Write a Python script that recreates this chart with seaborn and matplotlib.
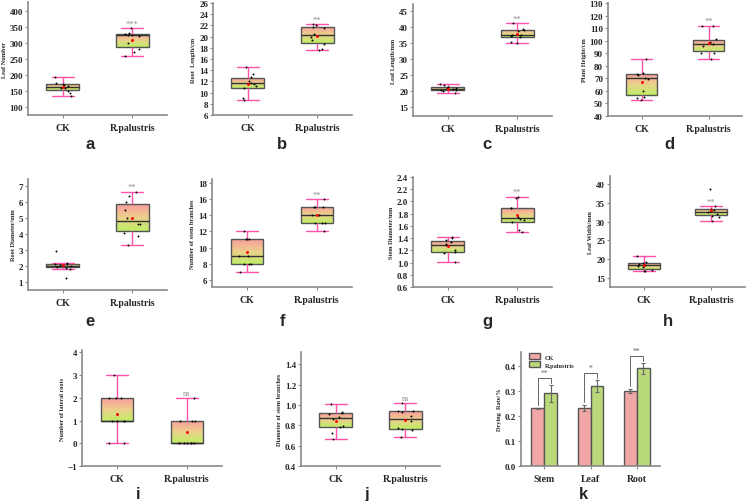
import numpy as np
import pandas as pd
import matplotlib
matplotlib.use("Agg")
import matplotlib.pyplot as plt
import matplotlib.ticker as mticker
from matplotlib import cbook
from matplotlib.colors import LinearSegmentedColormap
import seaborn as sns

# groups shared by all box panels
groups = ["CK", "R.palustris"]

# a - leaf number
leaf_number_ck = [133, 145, 150, 158, 160, 165, 168, 172, 176, 193]
leaf_number_rp = [260, 272, 282, 300, 322, 325, 326, 328, 332, 346]
# b - root length (cm)
root_length_ck = [8.6, 9.0, 10.8, 11.2, 11.6, 11.8, 12.1, 12.8, 13.3, 14.5]
root_length_rp = [17.6, 17.8, 18.6, 19.4, 20.0, 20.4, 21.5, 21.8, 22.0, 22.2]
# c - leaf length (mm)
leaf_length_ck = [19.4, 19.9, 20.2, 20.4, 20.6, 20.8, 21.0, 21.3, 21.8, 22.2]
leaf_length_rp = [35.0, 35.2, 36.8, 37.1, 37.4, 37.6, 38.9, 39.2, 39.4, 41.2]
# d - plant height (cm)
plant_height_ck = [53.0, 54.5, 55.2, 60.0, 69.5, 70.5, 73.0, 73.8, 74.5, 85.5]
plant_height_rp = [85.5, 90.0, 90.5, 96.0, 97.0, 98.0, 99.0, 101.0, 111.5, 112.0]
# e - root diameter (mm)
root_diam_ck = [1.25, 1.82, 1.90, 1.95, 2.00, 2.05, 2.10, 2.15, 2.20, 2.95]
root_diam_rp = [3.30, 3.90, 4.05, 4.62, 4.65, 5.00, 5.50, 6.00, 6.40, 6.65]
# f - number of stem branches
branches_ck = [7, 8, 8, 8, 9, 9, 11, 11, 11, 12]
branches_rp = [12, 13, 13, 13, 14, 14, 15, 15, 15, 16]
# g - stem diameter (mm)
stem_diam_ck = [1.01, 1.15, 1.17, 1.21, 1.28, 1.30, 1.33, 1.37, 1.40, 1.42]
stem_diam_rp = [1.50, 1.53, 1.66, 1.70, 1.72, 1.75, 1.89, 1.90, 2.05, 2.08]
# h - leaf width (mm)
leaf_width_ck = [16.8, 16.9, 17.2, 18.0, 18.3, 18.5, 18.6, 19.0, 19.3, 20.8]
leaf_width_rp = [30.2, 31.3, 31.6, 32.0, 32.5, 32.8, 33.0, 33.4, 34.1, 38.7]
# i - number of lateral roots
lateral_ck = [0, 0, 1, 1, 1, 1, 2, 2, 2, 3]
lateral_rp = [0, 0, 0, 0, 0, 0, 1, 1, 1, 2]
# j - diameter of stem branches
branch_diam_ck = [0.67, 0.72, 0.78, 0.79, 0.86, 0.88, 0.91, 0.92, 0.93, 1.01]
branch_diam_rp = [0.68, 0.75, 0.76, 0.77, 0.84, 0.89, 0.93, 0.94, 0.945, 1.02]

# k - drying rate
drying_parts = ["Stem", "Leaf", "Root"]
drying_ck = [0.23, 0.23, 0.30]
drying_rp = [0.29, 0.32, 0.39]
drying_ck_err = [0.002, 0.012, 0.008]
drying_rp_err = [0.035, 0.025, 0.022]
drying_sig = ["**", "*", "**"]

sns.set_style("ticks")
plt.rcParams["font.family"] = ["Liberation Serif", "DejaVu Serif"]
plt.rcParams["font.weight"] = "bold"
plt.rcParams["axes.labelweight"] = "bold"

W, H = 750, 502
fig = plt.figure(figsize=(7.5, 5.02), dpi=100)

grad = LinearSegmentedColormap.from_list("rg", ["#bfee66", "#ecd08c", "#f99c9c"])
spine_col = "#8a8a8a"
pink = "#ff52a8"


def px_axes(x0, y0, x1, y1):
    return fig.add_axes([x0 / W, 1 - y1 / H, (x1 - x0) / W, (y1 - y0) / H])


def style_axes(ax, ylim, yticks, ylabel, fmt=None):
    sns.despine(ax=ax)
    for s in ["left", "bottom"]:
        ax.spines[s].set_color(spine_col)
        ax.spines[s].set_linewidth(1.2)
    ax.set_ylim(*ylim)
    ax.set_yticks(yticks)
    if fmt:
        ax.yaxis.set_major_formatter(mticker.FormatStrFormatter(fmt))
    ax.tick_params(axis="y", labelsize=6.5, length=2.5, width=0.8, color=spine_col, pad=1)
    ax.tick_params(axis="x", labelsize=7, length=2.5, width=0.8, color=spine_col, pad=3)
    ax.set_xlabel("")
    ax.set_ylabel(ylabel, fontsize=4.5, labelpad=2)


def box_panel(rect, ck, rp, ylim, yticks, ylabel, sig, fmt=None):
    ax = px_axes(*rect)
    df = pd.DataFrame({"group": ["CK"] * len(ck) + ["R.palustris"] * len(rp),
                       "value": list(ck) + list(rp)})
    sns.boxplot(data=df, x="group", y="value", order=groups, ax=ax, width=0.47,
                color="white", linecolor="#555555", linewidth=1.0, showfliers=False,
                showmeans=True,
                meanprops=dict(marker="o", markersize=1.1, markerfacecolor="red",
                               markeredgecolor="red", zorder=6),
                whiskerprops=dict(color=pink, linewidth=1.0),
                capprops=dict(color=pink, linewidth=1.0),
                medianprops=dict(color="#333333", linewidth=1.0),
                capwidths=0.32)
    # gradient fill clipped to each box
    for patch in list(ax.patches):
        verts = patch.get_path().vertices
        x0, y0 = verts.min(axis=0)
        x1, y1 = verts.max(axis=0)
        im = ax.imshow(np.linspace(0, 1, 100).reshape(-1, 1), cmap=grad,
                       extent=(x0, x1, y0, y1), origin="lower", aspect="auto",
                       interpolation="bilinear", zorder=patch.get_zorder() - 0.05)
        im.set_clip_path(patch)
        patch.set_facecolor("none")
    sns.stripplot(data=df, x="group", y="value", order=groups, ax=ax, color="black",
                  size=1.4, jitter=0.12, zorder=5)
    ax.set_xlim(-0.5, 1.5)
    style_axes(ax, ylim, yticks, ylabel, fmt)
    whishi = cbook.boxplot_stats(np.asarray(rp, dtype=float))[0]["whishi"]
    ax.annotate(sig, xy=(1, whishi), xytext=(0, 0.5), textcoords="offset points",
                ha="center", va="bottom", fontsize=6, color="#8c8c8c", fontweight="normal")
    return ax


box_panel((28, 3, 167, 116), leaf_number_ck, leaf_number_rp, (75, 428),
          np.arange(100, 401, 50), "Leaf Number", "***")
box_panel((213, 4, 352, 116), root_length_ck, root_length_rp, (6, 26),
          np.arange(6, 27, 2), "Root  Length/cm", "**")
box_panel((413, 5, 552, 117), leaf_length_ck, leaf_length_rp, (12.2, 47.2),
          np.arange(15, 46, 5), "Leaf Length/mm", "**")
box_panel((608, 4, 742, 117), plant_height_ck, plant_height_rp, (40, 130),
          np.arange(40, 131, 10), "Plant Height/cm", "**")
box_panel((28, 180, 167, 291), root_diam_ck, root_diam_rp, (0.5, 7.45),
          np.arange(1, 8, 1), "Root Diameter/mm", "**")
box_panel((212, 180, 352, 288), branches_ck, branches_rp, (5.1, 18.5),
          np.arange(6, 19, 2), "Number of stem branches", "**")
box_panel((413, 178, 552, 288), stem_diam_ck, stem_diam_rp, (0.6, 2.4),
          np.arange(0.6, 2.41, 0.2), "Stem Diameter/mm", "**", fmt="%.1f")
box_panel((610, 177, 745, 288), leaf_width_ck, leaf_width_rp, (12.6, 42.1),
          np.arange(15, 41, 5), "Leaf Width/mm", "**")
box_panel((82, 351, 222, 467), lateral_ck, lateral_rp, (-1, 4.1),
          np.arange(-1, 5, 1), "Number of lateral roots", "ns")
box_panel((301, 353, 440, 467), branch_diam_ck, branch_diam_rp, (0.4, 1.52),
          np.arange(0.4, 1.41, 0.2), "Diameter of stem branches", "ns", fmt="%.1f")

# k - bar chart of drying rate
axk = px_axes(521, 353, 660, 467)
dk = pd.DataFrame({"part": drying_parts * 2,
                   "group": ["CK"] * 3 + ["R.palustris"] * 3,
                   "rate": drying_ck + drying_rp})
sns.barplot(data=dk, x="part", y="rate", hue="group", order=drying_parts,
            palette=["#ff9a9a", "#bfe86c"], width=0.55, edgecolor="#555555",
            linewidth=1.0, errorbar=None, ax=axk)
errs = [drying_ck_err, drying_rp_err]
tops = []
for cont, err in zip(axk.containers, errs):
    xs = [b.get_x() + b.get_width() / 2 for b in cont]
    ys = [b.get_height() for b in cont]
    axk.errorbar(xs, ys, yerr=err, fmt="none", ecolor="#666666", elinewidth=0.8,
                 capsize=1.5, capthick=0.8, zorder=4)
    tops.append([(x, y + e) for x, y, e in zip(xs, ys, err)])
for (xc, yc), (xr, yr), s in zip(tops[0], tops[1], drying_sig):
    ytop = yr + 0.028
    axk.plot([xc, xc, xr, xr], [yc + 0.012, ytop, ytop, yr + 0.008],
             color="#666666", lw=0.7)
    axk.text((xc + xr) / 2, ytop + 0.003, s, ha="center", va="bottom",
             fontsize=5.5, color="#666666", fontweight="normal")
axk.set_xlim(-0.5, 2.5)
style_axes(axk, (0, 0.455), np.arange(0, 0.41, 0.1), "Drying  Rate/%", fmt="%.1f")
axk.legend(loc="upper left", bbox_to_anchor=(0.03, 1.02), fontsize=4.5, frameon=False,
           handlelength=1.8, handleheight=1.1, labelspacing=0.3, borderaxespad=0.2)

# panel letters
letters = [("a", 90, 145), ("b", 282, 145), ("c", 487, 145), ("d", 669, 145),
           ("e", 90, 322), ("f", 282, 322), ("g", 487, 322), ("h", 668, 322),
           ("i", 138, 495), ("j", 367, 495), ("k", 583, 495)]
for t, x, y in letters:
    fig.text(x / W, 1 - y / H, t, ha="center", va="center", fontsize=12,
             fontweight="bold", family=["Liberation Sans", "DejaVu Sans"])

fig.savefig("out.png", dpi=100)
